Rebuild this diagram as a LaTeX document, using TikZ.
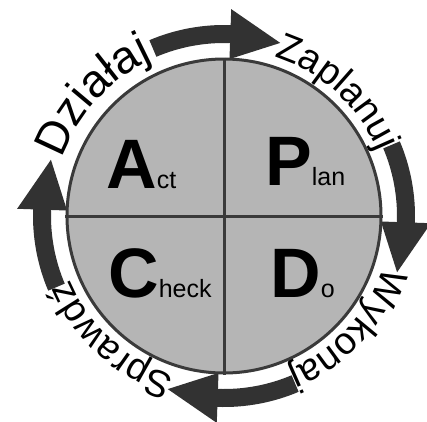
\documentclass[tikz,border=0pt]{standalone}
\usepackage{fontspec}
\setmainfont{Liberation Sans}
\usetikzlibrary{decorations.text}

\definecolor{wheelgray}{RGB}{181,181,181}
\definecolor{rimgray}{RGB}{58,58,58}
\definecolor{arrowgray}{RGB}{50,50,50}

\tikzset{
  wheel/.style = {circle, draw = rimgray, line width = 3pt, fill = wheelgray,
    minimum size = 314pt, inner sep = 0pt},
  cross/.style = {draw = rimgray, line width = 3pt},
  cyclearrow/.style = {fill = arrowgray},
  quarter/.style = {inner sep = 0pt, anchor = base west},
  ringtext/.style 2 args = {decorate, decoration = {text along path,
    text align = center, text = {|\fontsize{#1}{#1}\selectfont|#2}}}
}
\newcommand{\capletter}[1]{{\fontsize{70}{70}\selectfont\bfseries #1}}
\newcommand{\tailtext}[1]{{\fontsize{25}{25}\selectfont #1}}

\begin{document}
\begin{tikzpicture}[x=1pt, y=1pt]
  \useasboundingbox (-224,-205) rectangle (203,216);

  %arrows round the wheel (shaft, then head)
  \foreach \s [evaluate = \s as \e using \s-25, evaluate = \s as \t using \s-41] in {113,23,-67,-157}
    \fill[cyclearrow] (\s:173) arc[start angle = \s, end angle = \e, radius = 173]
      -- (\e:157) -- (\t:182) -- (\e:207) -- (\e:191)
      arc[start angle = \e, end angle = \s, radius = 191] -- cycle;

  %labels between the arrows
  \path[ringtext = {46}{Działaj}] (167.5:172) arc[start angle = 167.5, end angle = 107.5, radius = 172];
  \path[ringtext = {38}{Zaplanuj}] (77.5:167) arc[start angle = 77.5, end angle = 17.5, radius = 167];
  \path[ringtext = {38}{Wykonaj}] (-12.5:167) arc[start angle = -12.5, end angle = -72.5, radius = 167];
  \path[ringtext = {38}{Sprawdź}] (-102.5:167) arc[start angle = -102.5, end angle = -162.5, radius = 167];

  %the wheel
  \node[wheel] (wheel) at (0,0) {};
  \draw[cross] (wheel.west) -- (wheel.east);
  \draw[cross] (wheel.north) -- (wheel.south);

  \node[quarter] (act) at (-118,28) {\capletter{A}\tailtext{ct}};
  \node[quarter] (plan) at (41,31) {\capletter{P}\tailtext{lan}};
  \node[quarter] (check) at (-116,-81) {\capletter{C}\tailtext{heck}};
  \node[quarter] (do) at (46,-81) {\capletter{D}\tailtext{o}};
\end{tikzpicture}
\end{document}
